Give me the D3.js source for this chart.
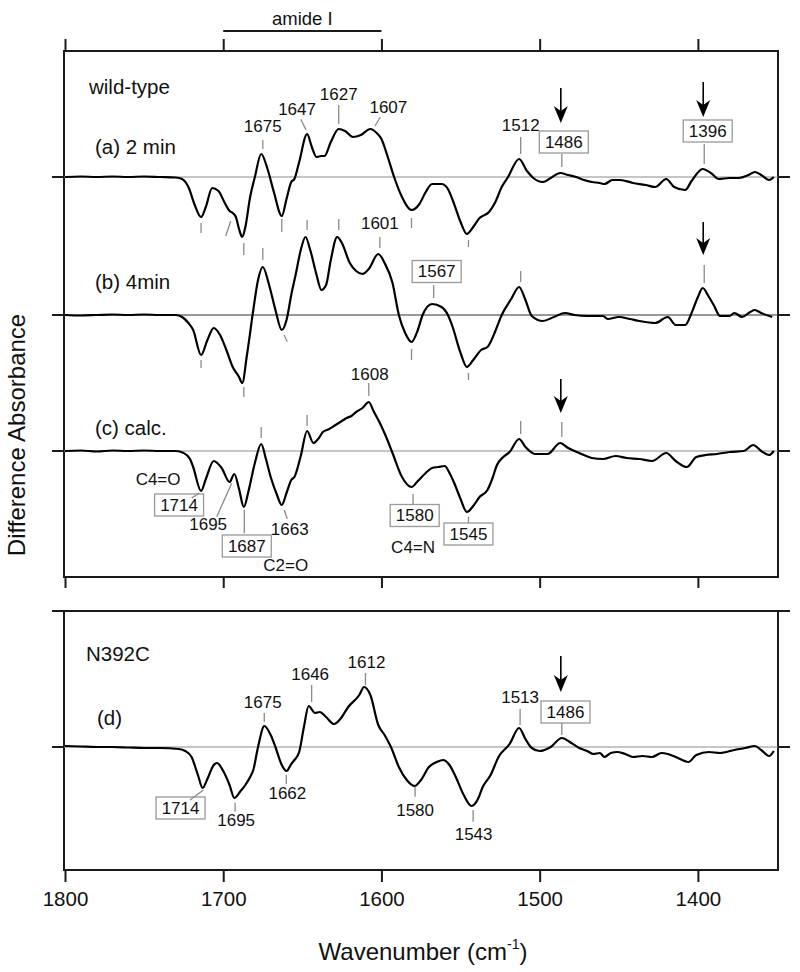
<!DOCTYPE html>
<html><head><meta charset="utf-8">
<script src="https://cdn.jsdelivr.net/npm/d3@7"></script>
<style>
html,body{margin:0;padding:0;background:#fff;}
svg{display:block;font-family:"Liberation Sans",Arial,Helvetica,sans-serif;}
</style></head>
<body><svg id="chart" width="800" height="972"></svg>
<script>
// ---------------- DATA ----------------
const xTicks = [1800, 1700, 1600, 1500, 1400];
const amideRange = [1700, 1600];

// spectrum (a) wild-type 2 min : [wavenumber, difference absorbance (arb.)]
const specA = [[1800,0],[1790,0.5],[1780,0],[1770,0.5],[1760,0],[1750,0.5],[1740,0],[1730,-0.5],[1726,-2],[1722,-10],[1718,-28],[1714,-40],[1711,-30],[1707,-11],[1703,-14],[1699,-26],[1696,-34],[1694,-36],[1692,-40],[1690,-52],[1688,-60],[1686,-50],[1683,-20],[1680,0],[1676,23],[1672,8],[1668,-15],[1663,-39],[1660,-22],[1657,-5],[1655,-2],[1652,15],[1647,43],[1644,30],[1641,20],[1638,21],[1636,21],[1632,35],[1627,48],[1623,46],[1618,40],[1613,42],[1607,48],[1603,44],[1600,38],[1596,20],[1592,0],[1587,-20],[1581,-33],[1576,-27],[1572,-15],[1568,-7],[1562,-7],[1558,-12],[1555,-23],[1550,-45],[1546,-57],[1542,-50],[1538,-41],[1532,-35],[1528,-25],[1524,-10],[1520,0],[1513,18],[1508,6],[1504,-1],[1498,-5],[1493,-1],[1487,4],[1482,2],[1477,0],[1472,-3],[1467,-5],[1462,-6],[1459,-7],[1454,-3],[1449,-3],[1441,-6],[1433,-8],[1427,-10],[1420,-2],[1415,-10],[1408,-13],[1404,-4],[1397,8],[1391,3],[1387,-2],[1380,-1],[1374,-1],[1368,2],[1364,5],[1360,2],[1355,-3],[1352,0]];

// spectrum (b) wild-type 4 min
const specB = [[1800,0],[1790,-0.5],[1780,0],[1770,0.5],[1760,0],[1750,0.5],[1740,0],[1730,0],[1726,-2],[1722,-8],[1719,-15],[1714,-40],[1710,-25],[1706,-13],[1702,-20],[1698,-35],[1694,-52],[1690,-62],[1688,-68],[1685,-40],[1681,5],[1678,35],[1675,48],[1671,30],[1667,5],[1663,-15],[1660,-5],[1657,20],[1654,42],[1651,65],[1648,78],[1645,65],[1641,40],[1638,25],[1635,30],[1632,55],[1628,78],[1625,72],[1620,52],[1616,44],[1612,41],[1608,46],[1602,61],[1598,52],[1593,32],[1589,0],[1585,-18],[1581,-27],[1577,-15],[1574,0],[1568,11],[1562,8],[1558,0],[1555,-12],[1550,-38],[1546,-52],[1542,-45],[1537,-35],[1533,-32],[1528,-16],[1524,0],[1518,16],[1513,28],[1509,15],[1505,-1],[1498,-6],[1491,-2],[1484,2],[1478,0],[1470,-1],[1460,-1],[1457,-4],[1450,-2],[1443,-4],[1437,-6],[1427,-8],[1419,-2],[1414,-10],[1408,-10],[1404,2],[1400,18],[1397,27],[1393,18],[1390,10],[1386,-1],[1380,-1],[1377,2],[1372,-2],[1367,3],[1364,5],[1360,2],[1353,-2]];

// spectrum (c) calculated
const specC = [[1800,0],[1790,0.5],[1780,-0.5],[1770,0.5],[1760,0],[1750,0.5],[1740,0],[1730,0],[1725,-2],[1721,-8],[1719,-16],[1714,-40],[1711,-28],[1706,-10],[1701,-17],[1696,-31],[1693,-23],[1690,-38],[1687,-56],[1684,-40],[1680,-12],[1676,7],[1673,-8],[1670,-26],[1666,-44],[1663,-54],[1660,-42],[1657,-29],[1655,-26],[1651,-5],[1647,20],[1643,8],[1640,12],[1637,19],[1633,22],[1629,26],[1625,30],[1622,33],[1619,35],[1616,39],[1612,43],[1608,49],[1605,40],[1601,28],[1597,14],[1593,-2],[1587,-26],[1581,-36],[1577,-30],[1572,-22],[1568,-17],[1564,-16],[1560,-15],[1557,-22],[1554,-32],[1550,-48],[1546,-61],[1542,-55],[1538,-46],[1533,-39],[1530,-28],[1527,-14],[1523,-6],[1519,-1],[1513,12],[1509,4],[1503,-3],[1495,-3],[1487,8],[1482,3],[1475,-2],[1467,-7],[1460,-8],[1452,-5],[1445,-7],[1437,-8],[1429,-10],[1420,-2],[1414,-10],[1407,-16],[1401,-6],[1395,-4],[1388,-3],[1380,-1],[1371,0],[1365,6],[1360,0],[1355,-4],[1352,0]];

// spectrum (d) N392C
const specD = [[1800,1],[1790,0.5],[1780,0],[1770,0],[1760,-0.5],[1750,-1],[1740,-1],[1728,-2],[1724,-4],[1720,-10],[1716,-28],[1713,-41],[1710,-32],[1706,-18],[1704,-16],[1700,-24],[1696,-38],[1693,-51],[1689,-44],[1686,-38],[1683,-30],[1681,-23],[1678,0],[1674,21],[1670,12],[1667,0],[1663,-18],[1660,-24],[1657,-17],[1655,-13],[1652,-5],[1649,20],[1646,41],[1642,34],[1639,35],[1635,30],[1630,23],[1626,28],[1621,40],[1614,52],[1611,60],[1607,52],[1602,22],[1598,12],[1594,0],[1589,-20],[1584,-33],[1579,-39],[1575,-33],[1570,-20],[1565,-15],[1561,-13],[1557,-18],[1553,-30],[1548,-48],[1543,-59],[1539,-52],[1536,-40],[1531,-28],[1526,-10],[1519,3],[1513,19],[1509,8],[1505,-1],[1500,-4],[1493,0],[1486,9],[1480,4],[1475,-1],[1470,-4],[1466,-7],[1462,-6],[1459,-10],[1455,-6],[1451,-5],[1446,-7],[1441,-10],[1435,-9],[1429,-10],[1423,-6],[1419,-7],[1414,-10],[1406,-15],[1401,-8],[1393,-5],[1386,-6],[1377,-3],[1370,-1],[1364,1],[1360,-3],[1355,-9],[1352,-4]];

const panelNames = ["(a) 2 min", "(b) 4min", "(c) calc.", "(d)"];
const groupNames = ["wild-type", "N392C"];

// peak annotations: text, wavenumber, boxed?
const peaksA = [["1675",1675,0],["1647",1647,0],["1627",1627,0],["1607",1607,0],["1512",1512,0],["1486",1486,1],["1396",1396,1]];
const peaksB = [["1601",1601,0],["1567",1567,1]];
const peaksC = [["1608",1608,0],["1714",1714,1],["1695",1695,0],["1687",1687,1],["1663",1663,0],["1580",1580,1],["1545",1545,1]];
const peaksD = [["1714",1714,1],["1695",1695,0],["1675",1675,0],["1662",1662,0],["1646",1646,0],["1612",1612,0],["1580",1580,0],["1543",1543,0],["1513",1513,0],["1486",1486,1]];
const bondLabels = [["C4=O",1714],["C2=O",1663],["C4=N",1580]];
const arrowsAt = [[0,1486],[0,1396],[1,1396],[2,1486],[3,1486]];

// ---------------- LAYOUT ----------------
const svg = d3.select("#chart");
const x = d3.scaleLinear().domain([1800, 1350]).range([65, 777]);
const bases = [177, 315, 451, 747];
const ys = bases.map(b => d3.scaleLinear().domain([0, 100]).range([b, b - 100]));
const upper = {top: 51, bottom: 577};
const lower = {top: 611, bottom: 870};
const L = 64, R = 778;
const frameColor = "#1a1a1a", annoColor = "#8a8a8a";
const numFont = 17;

// Frames
[upper, lower].forEach(p => {
  svg.append("rect").attr("x", L).attr("y", p.top).attr("width", R - L).attr("height", p.bottom - p.top)
    .attr("fill", "none").attr("stroke", frameColor).attr("stroke-width", 2);
});

// top axis (upper panel, ticks up)
const topAxis = d3.axisTop(x).tickValues(xTicks).tickSize(12).tickFormat("");
const gTop = svg.append("g").attr("transform", `translate(0,${upper.top})`).call(topAxis);
// bottom ticks of upper panel
const gUB = svg.append("g").attr("transform", `translate(0,${upper.bottom})`).call(d3.axisBottom(x).tickValues(xTicks).tickSize(11).tickFormat(""));
// bottom axis with labels
const gBot = svg.append("g").attr("transform", `translate(0,${lower.bottom})`)
  .call(d3.axisBottom(x).tickValues(xTicks).tickSize(12).tickPadding(9).tickFormat(d3.format("d")));
[gTop, gUB, gBot].forEach(g => {
  g.select(".domain").remove();
  g.selectAll(".tick line").attr("stroke", frameColor).attr("stroke-width", 2);
});
gBot.selectAll(".tick text").attr("font-size", 20.5).attr("fill", "#111")
  .attr("font-family", "Liberation Sans, Arial, sans-serif");

// zero-level ticks on left & right sides
bases.forEach((b, i) => {
  svg.append("line").attr("x1", L - 12).attr("x2", L).attr("y1", b).attr("y2", b).attr("stroke", frameColor).attr("stroke-width", 2);
  svg.append("line").attr("x1", R).attr("x2", R + 12).attr("y1", b).attr("y2", b).attr("stroke", frameColor).attr("stroke-width", 2);
});
svg.append("line").attr("x1", L - 12).attr("x2", L).attr("y1", lower.top).attr("y2", lower.top).attr("stroke", frameColor).attr("stroke-width", 2);
svg.append("line").attr("x1", R).attr("x2", R + 12).attr("y1", lower.top).attr("y2", lower.top).attr("stroke", frameColor).attr("stroke-width", 2);

// amide I bar
svg.append("line").attr("x1", x(amideRange[0])).attr("x2", x(amideRange[1])).attr("y1", 31).attr("y2", 31)
  .attr("stroke", frameColor).attr("stroke-width", 2);
svg.append("text").attr("x", (x(amideRange[0]) + x(amideRange[1])) / 2).attr("y", 25)
  .attr("text-anchor", "middle").attr("font-size", 18.5).attr("fill", "#111").text("amide I");

// zero lines
bases.forEach((b, i) => {
  svg.append("line").attr("x1", L).attr("x2", R).attr("y1", b).attr("y2", b)
    .attr("stroke", i === 1 ? "#333" : "#8c8c8c").attr("stroke-width", 1);
});

// spectra
const specs = [specA, specB, specC, specD];
specs.forEach((s, i) => {
  const line = d3.line().x(d => x(d[0])).y(d => ys[i](d[1])).curve(d3.curveMonotoneX);
  svg.append("path").attr("d", line(s)).attr("fill", "none").attr("stroke", "#000")
    .attr("stroke-width", 2.2).attr("stroke-linejoin", "round");
});

// axis titles
svg.append("text").attr("transform", "translate(25,435) rotate(-90)").attr("text-anchor", "middle")
  .attr("font-size", 24).attr("fill", "#111").text("Difference Absorbance");
const xt = svg.append("text").attr("x", 423).attr("y", 960).attr("text-anchor", "middle")
  .attr("font-size", 24).attr("fill", "#111");
xt.append("tspan").text("Wavenumber (cm");
xt.append("tspan").attr("font-size", 14).attr("dy", -11).text("-1");
xt.append("tspan").attr("dy", 11).text(")");

// panel labels
const plabel = (t, px, py, fs) => svg.append("text").attr("x", px).attr("y", py).attr("dominant-baseline", "central")
  .attr("font-size", fs).attr("fill", "#111").text(t);
plabel(groupNames[0], 89, 86, 20.5);
plabel(panelNames[0], 95, 146, 20.5);
plabel(panelNames[1], 95, 281, 20.5);
plabel(panelNames[2], 95, 427, 20.5);
plabel(groupNames[1], 86, 653, 20.5);
plabel(panelNames[3], 97, 717, 20.5);

// ---------- annotation helpers ----------
const tick = (panel, wn, dy1, dy2, dx1 = 0, dx2 = dx1) => {
  svg.append("line").attr("x1", x(wn) + dx1).attr("x2", x(wn) + dx2)
    .attr("y1", bases[panel] + dy1).attr("y2", bases[panel] + dy2)
    .attr("stroke", annoColor).attr("stroke-width", 1.3);
};
const label = (panel, t, wn, boxed, dx, dy) => {
  const cx = x(wn) + dx, cy = bases[panel] + dy;
  if (boxed) {
    svg.append("rect").attr("x", cx - 24.5).attr("y", cy - 11).attr("width", 49).attr("height", 22)
      .attr("fill", "#fff").attr("stroke", "#999").attr("stroke-width", 1.3);
  }
  svg.append("text").attr("x", cx).attr("y", cy).attr("text-anchor", "middle").attr("dominant-baseline", "central")
    .attr("font-size", numFont).attr("fill", "#111").text(t);
};
const arrow = (panel, wn, top, tip) => {
  const ax = x(wn) - 1, y0 = bases[panel] + top, y1 = bases[panel] + tip;
  svg.append("line").attr("x1", ax).attr("x2", ax).attr("y1", y0).attr("y2", y1 - 10).attr("stroke", "#000").attr("stroke-width", 1.6);
  svg.append("path").attr("d", `M${ax},${y1} L${ax - 7},${y1 - 17} L${ax},${y1 - 12} L${ax + 7},${y1 - 17} Z`).attr("fill", "#000");
};

// panel (a)
const layA = {"1675":[0,-51,-37,-28,0,0],"1647":[-10,-68,-57.7,-47,-6.3,-1],"1627":[0,-83,-72,-53,0,0],"1607":[18,-70,-60,-51,10,4.6],
  "1512":[0,-52,-40,-23,0,0],"1486":[2,-35,-23,-10,0,0],"1396":[3.5,-46,-33,-13,0,0]};
peaksA.forEach(([t, wn, b]) => { const l = layA[t]; label(0, t, wn, b, l[0], l[1]); tick(0, wn, l[2], l[3], l[4], l[5]); });
// below-curve ticks for (a) minima
tick(0, 1714, 46, 56); tick(0, 1695, 44, 59, -0.4, -5.4); tick(0, 1687, 66, 78); tick(0, 1663, 42, 55); tick(0, 1581, 41, 51); tick(0, 1545, 63, 70);

// panel (b)
tick(1, 1675, -67, -55); tick(1, 1647, -95, -85); tick(1, 1627, -96, -85);
const layB = {"1601":[0,-92,-78,-67],"1567":[3,-43.5,-30,-17]};
peaksB.forEach(([t, wn, b]) => { const l = layB[t]; label(1, t, wn, b, l[0], l[1]); tick(1, wn, l[2], l[3]); });
tick(1, 1512, -44, -33); tick(1, 1396, -50, -32);
tick(1, 1714, 45, 53); tick(1, 1663, 20, 26.7, 2.2, 5.5); tick(1, 1687, 72, 82); tick(1, 1581, 34, 45); tick(1, 1545, 58, 65);

// panel (c)
const layC = {"1608":[1,-77,-68,-55,0,0],"1714":[-22,54,47,42,-9.3,-1.7],"1695":[-23,73,65.7,32.3,-14.4,0.6],"1687":[3,95,59,82.3,0.5,0.5],
  "1663":[8,78,59,68,2.5,5.5],"1580":[1.6,64.5,43,53,0,0],"1545":[0,83,65.7,71.7,0,0]};
peaksC.forEach(([t, wn, b]) => { const l = layC[t]; label(2, t, wn, b, l[0], l[1]); tick(2, wn, l[2], l[3], l[4], l[5]); });
tick(2, 1676, -24, -13); tick(2, 1647, -36, -25); tick(2, 1512, -30, -17); tick(2, 1486, -29, -14);
const bondPos = {"C4=O":[-43,28],"C2=O":[4,114],"C4=N":[0,96]};
bondLabels.forEach(([t, wn]) => {
  svg.append("text").attr("x", x(wn) + bondPos[t][0]).attr("y", bases[2] + bondPos[t][1]).attr("text-anchor", "middle")
    .attr("dominant-baseline", "central").attr("font-size", numFont).attr("fill", "#111").text(t);
});

// panel (d)
const layD = {"1714":[-20.5,61,53,43,-11,2.3],"1695":[5,73,55.7,64.7,4,4],"1675":[0,-45,-34,-25,1.5,1.5],"1662":[4,46,28,37,3,3],
  "1646":[1.5,-73,-62,-45,3,3],"1612":[4,-85,-74,-62,3,3],"1580":[2,63,39.7,49.7,2,2],"1543":[2,87,63,74.7,1.5,1.5],
  "1513":[1,-50,-38,-22,1,1],"1486":[3.7,-35,-24,-12,0,0]};
peaksD.forEach(([t, wn, b]) => { const l = layD[t]; label(3, t, wn, b, l[0], l[1]); tick(3, wn, l[2], l[3], l[4], l[5]); });

// arrows
const arrowLay = [[-89,-54],[-95,-60],[-93,-60],[-72,-38],[-91,-55]];
arrowsAt.forEach(([p, wn], i) => arrow(p, wn, arrowLay[i][0], arrowLay[i][1]));
</script></body></html>
